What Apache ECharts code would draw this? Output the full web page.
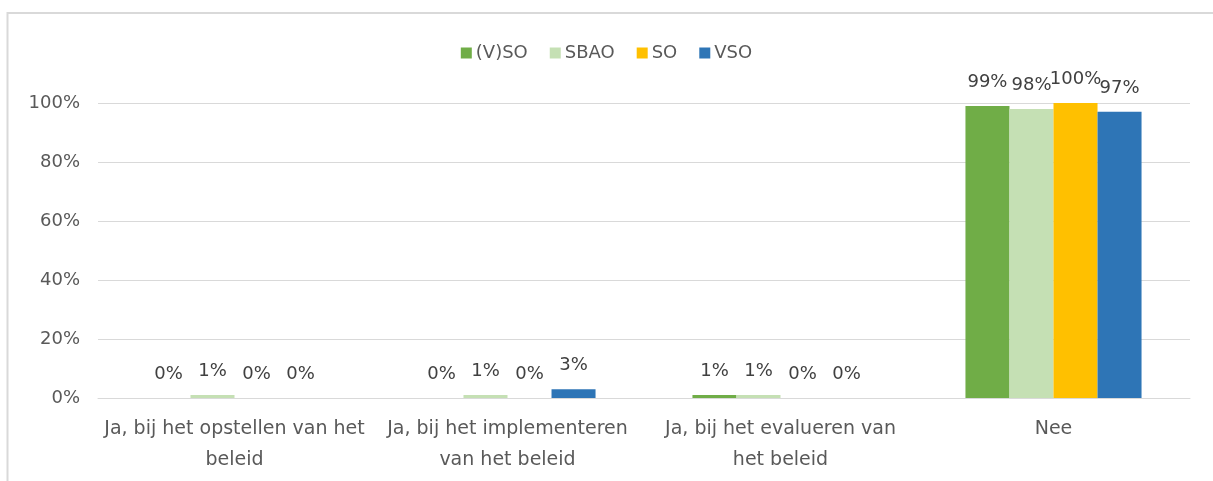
<!DOCTYPE html>
<html>
<head>
<meta charset="utf-8">
<script src="https://cdn.jsdelivr.net/npm/echarts@6/dist/echarts.min.js"></script>
<style>
  html, body { margin: 0; padding: 0; background: #fff; }
  #chart { width: 1213px; height: 481px; }
</style>
</head>
<body>
<div id="chart"></div>
<script>
// Antwoordcategorieën (met regeleinde zoals op de as)
const categories = [
  'Ja, bij het opstellen van het\nbeleid',
  'Ja, bij het implementeren\nvan het beleid',
  'Ja, bij het evalueren van\nhet beleid',
  'Nee'
];

// Percentages per onderwijstype
const vsoAll = [0, 0, 1, 99];   // (V)SO
const sbao   = [1, 1, 1, 98];   // SBAO
const so     = [0, 0, 0, 100];  // SO
const vso    = [0, 3, 0, 97];   // VSO

const seriesNames  = ['(V)SO', 'SBAO', 'SO', 'VSO'];
const seriesValues = [vsoAll, sbao, so, vso];
const seriesColors = ['#70ad47', '#c5e0b4', '#ffc000', '#2e75b6'];

const yTicks = [0, 20, 40, 60, 80, 100];

const FONT = '"DejaVu Sans", "Noto Sans", sans-serif';

const chart = echarts.init(document.getElementById('chart'));

chart.setOption({
  animation: false,
  backgroundColor: '#ffffff',
  textStyle: { fontFamily: FONT },
  // chart frame: left and top edges
  graphic: [{
    type: 'polyline',
    shape: { points: [[7.5, 481], [7.5, 13], [1213, 13]] },
    style: { fill: null, stroke: '#d9d9d9', lineWidth: 2 },
    silent: true
  }],
  legend: {
    top: 39,
    left: 'center',
    itemWidth: 11,
    itemHeight: 11,
    itemGap: 22,
    icon: 'rect',
    textStyle: { color: '#595959', fontSize: 18, fontFamily: FONT, padding: [0, 0, 0, -1] },
    data: seriesNames
  },
  grid: { left: 98, right: 23, top: 103, bottom: 83 },
  xAxis: {
    type: 'category',
    data: categories,
    axisLine: { lineStyle: { color: '#d9d9d9', width: 1 } },
    axisTick: { show: false },
    axisLabel: {
      color: '#595959',
      fontSize: 19,
      lineHeight: 31,
      margin: 16,
      interval: 0
    }
  },
  yAxis: {
    type: 'value',
    min: yTicks[0],
    max: yTicks[yTicks.length - 1],
    interval: 20,
    axisLine: { show: false },
    axisTick: { show: false },
    splitLine: { lineStyle: { color: '#d9d9d9', width: 1 } },
    axisLabel: {
      color: '#595959',
      fontSize: 18,
      margin: 18,
      formatter: v => v + '%'
    }
  },
  series: seriesNames.map((name, i) => ({
    name: name,
    type: 'bar',
    data: seriesValues[i],
    barGap: '0%',
    barCategoryGap: '35.5%',
    itemStyle: { color: seriesColors[i] },
    label: {
      show: true,
      position: 'top',
      distance: 15,
      color: '#404040',
      fontSize: 18,
      fontFamily: FONT,
      formatter: p => p.value + '%'
    }
  }))
});
</script>
</body>
</html>
